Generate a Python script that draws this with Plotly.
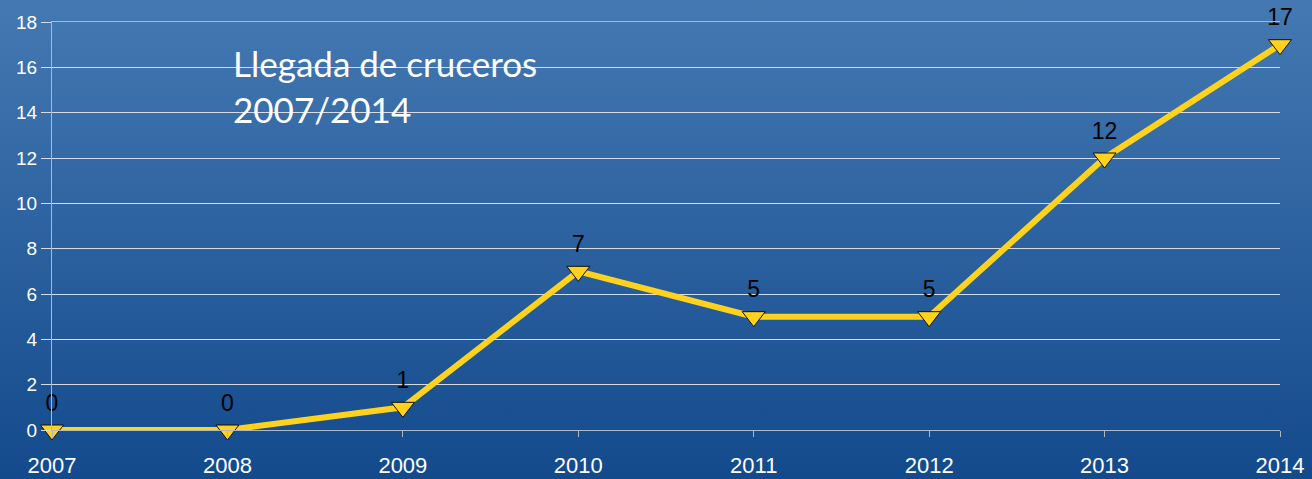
import base64
import plotly.graph_objects as go

# Datos: llegada de cruceros por año
years = [2007, 2008, 2009, 2010, 2011, 2012, 2013, 2014]
cruceros = [0, 0, 1, 7, 5, 5, 12, 17]
y_ticks = [0, 2, 4, 6, 8, 10, 12, 14, 16, 18]

W, H = 1312, 479
L, R, T, B = 52, 32, 22, 49

# Fondo degradado azul (SVG en línea)
svg = (
    '<svg xmlns="http://www.w3.org/2000/svg" width="100" height="100" preserveAspectRatio="none">'
    '<defs><linearGradient id="g" x1="0" y1="0" x2="0" y2="1">'
    '<stop offset="0" stop-color="#4479b2"/><stop offset="1" stop-color="#134a8c"/>'
    '</linearGradient></defs><rect width="100" height="100" fill="url(#g)"/></svg>'
)
bg_src = 'data:image/svg+xml;base64,' + base64.b64encode(svg.encode()).decode()

pw = W - L - R
ph = H - T - B

fig = go.Figure()
fig.add_trace(go.Scatter(
    x=years, y=cruceros,
    mode='lines+markers+text',
    line=dict(color='#FFD21E', width=6),
    marker=dict(symbol='triangle-down', size=20, color='#FFD21E',
                line=dict(color='#111111', width=1)),
    text=[str(v) for v in cruceros],
    textposition='top center',
    textfont=dict(family='Liberation Sans, Arial', size=23, color='#000000'),
    cliponaxis=False,
    hoverinfo='x+y',
))

fig.add_layout_image(dict(
    source=bg_src, xref='paper', yref='paper',
    x=-L / pw, y=1 + T / ph, sizex=W / pw, sizey=H / ph,
    sizing='stretch', layer='below', xanchor='left', yanchor='top',
))

fig.add_annotation(
    text='Llegada de cruceros<br>2007/2014',
    xref='paper', yref='paper', x=(231 - L) / pw, y=(H - B - 40) / ph,
    xanchor='left', yanchor='top', align='left', showarrow=False,
    font=dict(family='Lato', size=35, color='white'),
)

fig.update_layout(
    width=W, height=H,
    margin=dict(l=L, r=R, t=T, b=B),
    paper_bgcolor='#2a5e9e',
    plot_bgcolor='rgba(0,0,0,0)',
    showlegend=False,
    xaxis=dict(
        range=[2007, 2014], tickvals=years, ticktext=[str(y) for y in years],
        showgrid=False, zeroline=False, automargin=False,
        showline=True, linecolor='#b0b8c4', linewidth=1, mirror=True,
        ticks='outside', ticklen=6, tickcolor='#b0b8c4',
        ticklabelstandoff=10,
        tickfont=dict(family='Liberation Sans, Arial', size=22, color='white'),
    ),
    yaxis=dict(
        range=[0, 18], tickvals=y_ticks, automargin=False,
        showgrid=True, gridcolor='#d4dce8', gridwidth=1, zeroline=False,
        showline=True, linecolor='#b0b8c4', linewidth=1,
        ticks='outside', ticklen=10, tickcolor='#d4dce8',
        tickfont=dict(family='Liberation Sans, Arial', size=19, color='white'),
    ),
)

fig.write_html('out.html', config={'displayModeBar': False},
               post_script="document.body.style.margin='0';")
